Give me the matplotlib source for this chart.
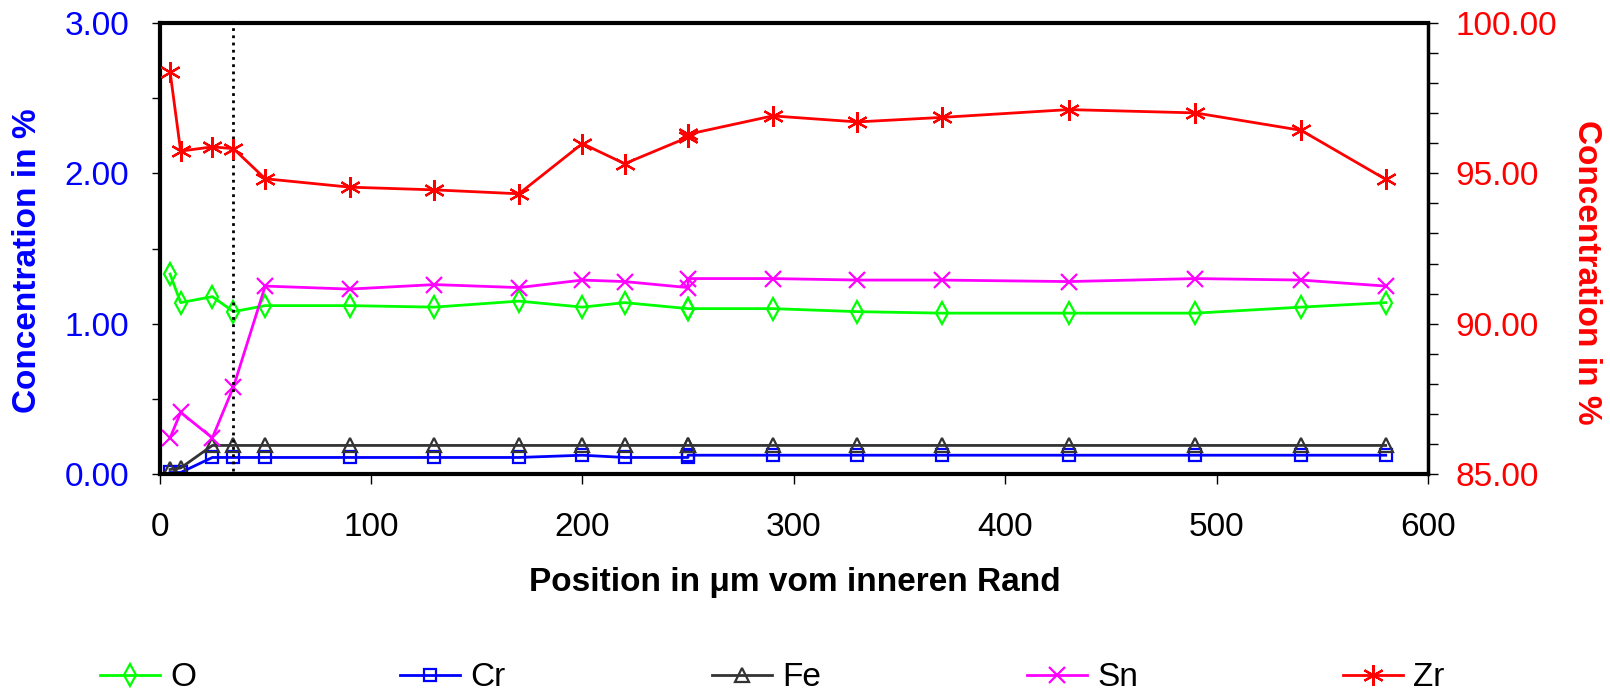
import numpy as np
import matplotlib
matplotlib.use("Agg")
import matplotlib.pyplot as plt
from matplotlib.ticker import FormatStrFormatter, MultipleLocator

plt.rcParams['font.family'] = ['Liberation Sans', 'DejaVu Sans']

# position in um from inner edge (250 appears twice in the source data)
position = [5, 10, 25, 35, 50, 90, 130, 170, 200, 220, 250, 250, 290, 330, 370, 430, 490, 540, 580]

# concentrations, left axis (%)
conc_O = [1.33, 1.14, 1.18, 1.08, 1.12, 1.12, 1.11, 1.15, 1.11, 1.14, 1.10, 1.10, 1.10, 1.08, 1.07, 1.07, 1.07, 1.11, 1.14]
conc_Cr = [0.01, 0.01, 0.11, 0.11, 0.11, 0.11, 0.11, 0.11, 0.125, 0.11, 0.11, 0.125, 0.125, 0.125, 0.125, 0.125, 0.125, 0.125, 0.125]
conc_Fe = [0.03, 0.04, 0.19, 0.19, 0.19, 0.19, 0.19, 0.19, 0.19, 0.19, 0.19, 0.19, 0.19, 0.19, 0.19, 0.19, 0.19, 0.19, 0.19]
conc_Sn = [0.24, 0.41, 0.24, 0.58, 1.25, 1.23, 1.26, 1.24, 1.29, 1.28, 1.24, 1.30, 1.30, 1.29, 1.29, 1.28, 1.30, 1.29, 1.25]
# right axis (%)
conc_Zr = [98.38, 95.74, 95.88, 95.82, 94.82, 94.54, 94.45, 94.32, 95.99, 95.32, 96.2, 96.3, 96.91, 96.71, 96.86, 97.12, 97.01, 96.43, 94.8]

boundary = 35

W, H = 1610, 694
FS = 24

fig = plt.figure(figsize=(W / 100, H / 100), dpi=100)
ax = fig.add_axes([159.5 / W, 1 - 474 / H, (1428 - 159.5) / W, (474 - 23) / H])
ax2 = ax.twinx()

style = dict(lw=2, mfc='none', mew=1.6)
l_O, = ax.plot(position, conc_O, color='#00FF00', marker='d', ms=11, label='O', **style)
l_Cr, = ax.plot(position, conc_Cr, color='#0000FF', marker='s', ms=8, label='Cr', **style)
l_Fe, = ax.plot(position, conc_Fe, color='#333333', marker='^', ms=10, label='Fe', **style)
l_Sn, = ax.plot(position, conc_Sn, color='#FF00FF', marker='x', ms=11, label='Sn', **style)
l_Zr, = ax2.plot(position, conc_Zr, color='#FF0000', marker=(6, 2, 0), ms=15, label='Zr', **style)

ax.axvline(boundary, ymin=0.007, ymax=1.011, clip_on=False, color='black',
           lw=2, dashes=(1, 1.6), zorder=5)

ax.set_xlim(0, 600)
ax.set_ylim(0, 3)
ax2.set_ylim(85, 100)

ax.xaxis.set_major_locator(MultipleLocator(100))
ax.yaxis.set_major_locator(MultipleLocator(1))
ax.yaxis.set_minor_locator(MultipleLocator(0.5))
ax2.yaxis.set_major_locator(MultipleLocator(5))
ax2.yaxis.set_minor_locator(MultipleLocator(1))
ax.yaxis.set_major_formatter(FormatStrFormatter('%.2f'))
ax2.yaxis.set_major_formatter(FormatStrFormatter('%.2f'))

ax.tick_params(axis='x', which='both', direction='out', length=7, width=1,
               labelsize=FS, pad=20, colors='black')
ax.tick_params(axis='y', which='both', direction='out', length=6, width=1,
               labelsize=FS, pad=16, labelcolor='#0000FF')
ax2.tick_params(axis='y', which='both', direction='out', length=7, width=1,
                labelsize=FS, pad=13, labelcolor='#FF0000')

for side in ['left', 'bottom', 'top']:
    ax.spines[side].set_linewidth(3)
ax.spines['right'].set_visible(False)
for side in ['left', 'bottom', 'top']:
    ax2.spines[side].set_visible(False)
ax2.spines['right'].set_linewidth(2.5)

fig.text(28 / W, 1 - 261 / H, 'Concentration in %', rotation=90, ha='center', va='center',
         fontsize=24, fontweight='bold', color='#0000FF')
fig.text(1586 / W, 1 - 272 / H, 'Concentration in %', rotation=270, ha='center', va='center',
         fontsize=24, fontweight='bold', color='#FF0000')
fig.text(795 / W, 1 - 583 / H, 'Position in μm vom inneren Rand', ha='center', va='center',
         fontsize=24, fontweight='bold', color='black')

# legend entries spread along the bottom
legend_x = [100, 400, 712, 1027, 1343]
for line, lx in zip([l_O, l_Cr, l_Fe, l_Sn, l_Zr], legend_x):
    fig.legend(handles=[line], loc='center left', bbox_to_anchor=(lx / W, 1 - 678 / H),
               frameon=False, fontsize=FS, borderpad=0, borderaxespad=0,
               handlelength=1.8, handletextpad=0.3)

fig.savefig('out.png', dpi=100)
